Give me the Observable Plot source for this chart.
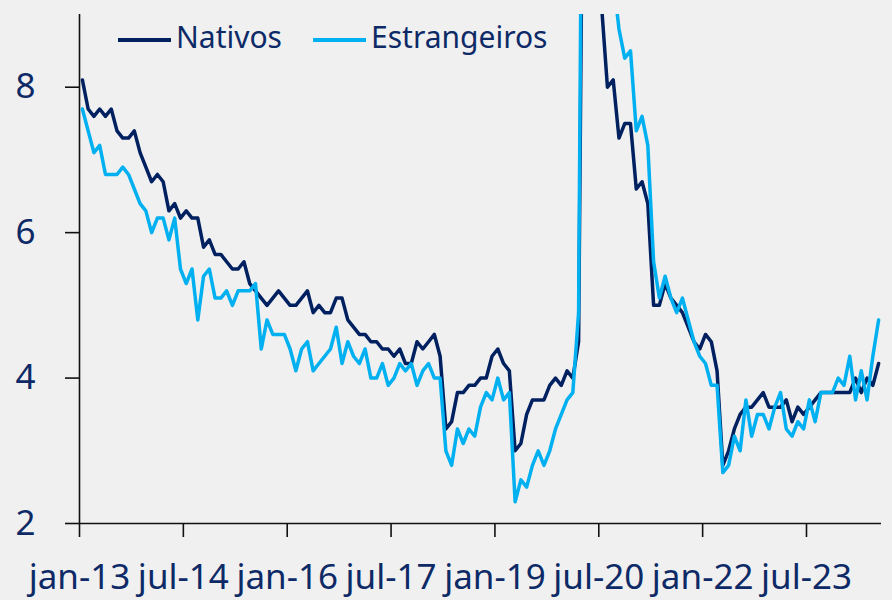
<!DOCTYPE html>
<html>
<head>
<meta charset="utf-8">
<script src="https://cdn.jsdelivr.net/npm/d3@7"></script>
<script src="https://cdn.jsdelivr.net/npm/@observablehq/plot@0.6"></script>
<style>
  html, body { margin: 0; padding: 0; background: #f0f0f0; }
  #chart { position: relative; width: 892px; height: 600px; }
  .sw { position: absolute; height: 4px; width: 53px; top: 38px; }
  .lt { position: absolute; top: 22px; font-family: "Noto Sans", sans-serif; font-size: 30px; line-height: 30px; color: #0d2a67; white-space: nowrap; }
</style>
</head>
<body>
<div id="chart"></div>
<script>
// Monthly series, jan-13 .. jul-24 (139 months)
const seriesNames = ["Nativos", "Estrangeiros"];
const seriesColors = ["#002060", "#00b0f0"];

const nativos = [
  8.1, 7.7, 7.6, 7.7, 7.6, 7.7, 7.4, 7.3, 7.3, 7.4, 7.1, 6.9,
  6.7, 6.8, 6.7, 6.3, 6.4, 6.2, 6.3, 6.2, 6.2, 5.8, 5.9, 5.7,
  5.7, 5.6, 5.5, 5.5, 5.6, 5.3, 5.2, 5.1, 5.0, 5.1, 5.2, 5.1,
  5.0, 5.0, 5.1, 5.2, 4.9, 5.0, 4.9, 4.9, 5.1, 5.1, 4.8, 4.7,
  4.6, 4.6, 4.5, 4.5, 4.4, 4.4, 4.3, 4.4, 4.2, 4.2, 4.5, 4.4,
  4.5, 4.6, 4.3, 3.3, 3.4, 3.8, 3.8, 3.9, 3.9, 4.0, 4.0, 4.3,
  4.4, 4.2, 4.1, 3.0, 3.1, 3.5, 3.7, 3.7, 3.7, 3.9, 4.0, 3.9,
  4.1, 4.0, 4.5, 14.0, 13.0, 11.3, 9.1, 8.0, 8.1, 7.3, 7.5, 7.5,
  6.6, 6.7, 6.4, 5.0, 5.0, 5.3, 5.1, 5.0, 4.9, 4.7, 4.5, 4.4,
  4.6, 4.5, 4.1, 2.8, 3.0, 3.3, 3.5, 3.6, 3.6, 3.7, 3.8, 3.6,
  3.6, 3.6, 3.7, 3.4, 3.6, 3.5, 3.6, 3.7, 3.8, 3.8, 3.8, 3.8,
  3.8, 3.8, 4.0, 3.8, 4.0, 3.9, 4.2
];

const estrangeiros = [
  7.7, 7.4, 7.1, 7.2, 6.8, 6.8, 6.8, 6.9, 6.8, 6.6, 6.4, 6.3,
  6.0, 6.2, 6.2, 5.9, 6.2, 5.5, 5.3, 5.5, 4.8, 5.4, 5.5, 5.1,
  5.1, 5.2, 5.0, 5.2, 5.2, 5.2, 5.3, 4.4, 4.8, 4.6, 4.6, 4.6,
  4.4, 4.1, 4.4, 4.5, 4.1, 4.2, 4.3, 4.4, 4.7, 4.2, 4.5, 4.3,
  4.2, 4.4, 4.0, 4.0, 4.2, 3.9, 4.0, 4.2, 4.1, 4.2, 3.9, 4.1,
  4.2, 4.0, 4.0, 3.0, 2.8, 3.3, 3.1, 3.3, 3.2, 3.6, 3.8, 3.7,
  4.0, 3.7, 3.8, 2.3, 2.6, 2.5, 2.8, 3.0, 2.8, 3.0, 3.3, 3.5,
  3.7, 3.8, 4.9, 16.4, 15.2, 13.8, 12.5, 10.8, 9.5, 8.8, 8.4, 8.5,
  7.4, 7.6, 7.2, 5.6, 5.1, 5.4, 5.1, 4.9, 5.1, 4.8, 4.5, 4.3,
  4.2, 3.9, 3.9, 2.7, 2.8, 3.2, 3.0, 3.7, 3.2, 3.5, 3.5, 3.3,
  3.6, 3.8, 3.3, 3.2, 3.4, 3.3, 3.7, 3.4, 3.8, 3.8, 3.8, 4.0,
  3.9, 4.3, 3.7, 4.1, 3.7, 4.3, 4.8
];

// Month categories (index positions) and tick labels
const monthCount = 139;
const xTickIndex = [0, 18, 36, 54, 72, 90, 108, 126];
const xTickLabels = ["jan-13", "jul-14", "jan-16", "jul-17", "jan-19", "jul-20", "jan-22", "jul-23"];
const yTicks = [2, 4, 6, 8];
const yTickLabels = ["2", "4", "6", "8"];
const yDomain = [2, 9];

const textColor = "#0d2a67";
const axisColor = "#111111";

const rows = [];
nativos.forEach((v, i) => rows.push({series: seriesNames[0], month: i + 0.5, value: v}));
estrangeiros.forEach((v, i) => rows.push({series: seriesNames[1], month: i + 0.5, value: v}));

const plot = Plot.plot({
  width: 892,
  height: 600,
  marginLeft: 79,
  marginRight: 11,
  marginTop: 14,
  marginBottom: 77,
  style: {background: "#f0f0f0", fontFamily: "'Noto Sans', sans-serif", fontSize: "35px"},
  x: {type: "linear", domain: [0, monthCount], label: null},
  y: {domain: yDomain, label: null},
  color: {domain: seriesNames, range: seriesColors},
  marks: [
    Plot.axisY({ticks: yTicks, tickFormat: d => yTickLabels[yTicks.indexOf(d)], tickSize: 14, tickPadding: 30, label: null, stroke: axisColor, strokeWidth: 1.6, fill: textColor, fontSize: 35}),
    Plot.axisX({ticks: xTickIndex, tickFormat: d => xTickLabels[xTickIndex.indexOf(d)], tickSize: 14, tickPadding: 27, label: null, stroke: axisColor, strokeWidth: 1.6, fill: textColor, fontSize: 35}),
    Plot.ruleX([0], {stroke: axisColor, strokeWidth: 1.6}),
    Plot.ruleY([2], {stroke: axisColor, strokeWidth: 1.6}),
    Plot.lineY(rows, {x: "month", y: "value", z: "series", stroke: "series", strokeWidth: 3.5, clip: true, strokeLinejoin: "round"})
  ]
});

const chart = document.getElementById("chart");
chart.appendChild(plot);

// Legend (HTML overlay)
const legendPos = [{sw: 118, tx: 176}, {sw: 313, tx: 371}];
seriesNames.forEach((name, k) => {
  const sw = document.createElement("div");
  sw.className = "sw";
  sw.style.left = legendPos[k].sw + "px";
  sw.style.background = seriesColors[k];
  chart.appendChild(sw);
  const t = document.createElement("div");
  t.className = "lt";
  t.style.left = legendPos[k].tx + "px";
  t.textContent = name;
  chart.appendChild(t);
});
</script>
</body>
</html>
